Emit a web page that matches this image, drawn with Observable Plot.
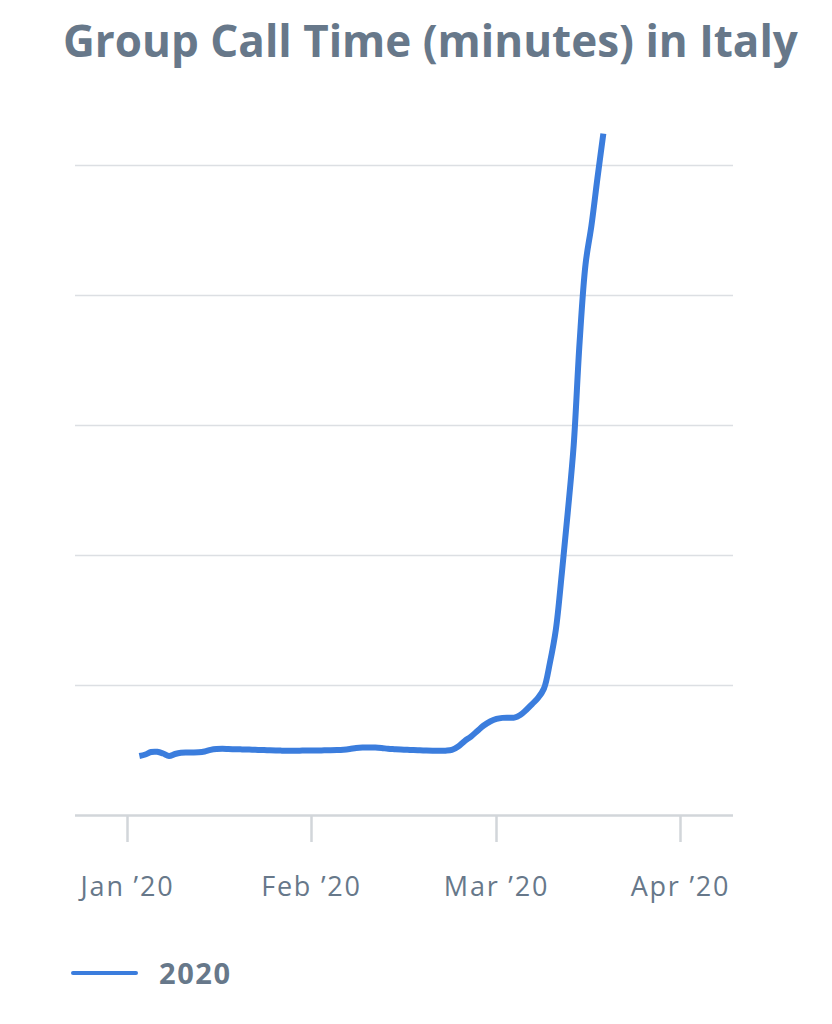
<!DOCTYPE html>
<html>
<head>
<meta charset="utf-8">
<script src="https://cdn.jsdelivr.net/npm/d3@7"></script>
<script src="https://cdn.jsdelivr.net/npm/@observablehq/plot@0.6"></script>
<style>
  html, body { margin: 0; padding: 0; background: #ffffff; }
  body { width: 832px; height: 1024px; position: relative; overflow: hidden; font-family: "Open Sans", sans-serif; }
  #title { position: absolute; left: 63px; top: 18px; font-size: 44px; line-height: 1; font-weight: 700; color: #67788a; white-space: nowrap; }
  #chart { position: absolute; left: 0; top: 100px; }
  #chart svg text { letter-spacing: 1.8px; }
  #legend { position: absolute; left: 71px; top: 958px; height: 29px; display: flex; align-items: center; }
  #legend .sw { display: inline-block; width: 67px; height: 4px; border-radius: 2px; background: #3b7ddd; margin-right: 21px; }
  #legend .lab { font-size: 29px; line-height: 1; font-weight: 700; color: #67788a; letter-spacing: 1.6px; }
</style>
</head>
<body>
<div id="title">Group Call Time (minutes) in Italy</div>
<div id="chart"></div>
<div id="legend"><span class="sw"></span><span class="lab">2020</span></div>
<script>
// Daily values (relative units, gridline step = 20)
const janDates = ["2020-01-03","2020-01-04","2020-01-05","2020-01-06","2020-01-07","2020-01-08","2020-01-09","2020-01-10","2020-01-11","2020-01-12","2020-01-13","2020-01-14","2020-01-15","2020-01-16","2020-01-17","2020-01-18","2020-01-19","2020-01-20","2020-01-21","2020-01-22","2020-01-23","2020-01-24","2020-01-25","2020-01-26","2020-01-27","2020-01-28","2020-01-29","2020-01-30","2020-01-31"];
const janValues = [9.15,9.38,9.77,9.80,9.54,9.15,9.46,9.65,9.69,9.69,9.72,9.85,10.10,10.23,10.26,10.23,10.20,10.18,10.15,10.12,10.09,10.06,10.03,10.00,9.98,9.97,9.97,9.98,10.00];
const febDates = ["2020-02-01","2020-02-02","2020-02-03","2020-02-04","2020-02-05","2020-02-06","2020-02-07","2020-02-08","2020-02-09","2020-02-10","2020-02-11","2020-02-12","2020-02-13","2020-02-14","2020-02-15","2020-02-16","2020-02-17","2020-02-18","2020-02-19","2020-02-20","2020-02-21","2020-02-22","2020-02-23","2020-02-24","2020-02-25","2020-02-26","2020-02-27","2020-02-28","2020-02-29"];
const febValues = [10.00,10.00,10.02,10.03,10.06,10.12,10.23,10.38,10.46,10.48,10.46,10.38,10.26,10.20,10.15,10.11,10.06,10.03,10.00,9.97,9.95,9.97,10.08,10.62,11.46,12.15,13.00,13.85,14.46];
const marDates = ["2020-03-01","2020-03-02","2020-03-03","2020-03-04","2020-03-05","2020-03-06","2020-03-07","2020-03-08","2020-03-09","2020-03-10","2020-03-11","2020-03-12","2020-03-13","2020-03-14","2020-03-15","2020-03-16","2020-03-17","2020-03-18","2020-03-19"];
const marValues = [14.85,15.02,15.05,15.05,15.46,16.23,17.15,18.08,19.54,23.5,28.6,37.2,46.6,56.9,72.8,84.8,90.8,98.0,104.9];

const tickDates = ["2020-01-01","2020-02-01","2020-03-01","2020-04-01"];
const tickLabels = ["Jan \u201920","Feb \u201920","Mar \u201920","Apr \u201920"];
const gridValues = [20, 40, 60, 80, 100];

const dates = [...janDates, ...febDates, ...marDates];
const values = [...janValues, ...febValues, ...marValues];
const data = dates.map((d, i) => ({date: new Date(d + "T00:00:00Z"), value: values[i]}));
const ticks = tickDates.map(d => new Date(d + "T00:00:00Z"));
const labelOf = new Map(ticks.map((t, i) => [+t, tickLabels[i]]));

const chart = Plot.plot({
  width: 832,
  height: 810,
  marginLeft: 75,
  marginRight: 99,
  marginTop: 0,
  marginBottom: 95,
  style: {background: "transparent", fontFamily: "Open Sans, sans-serif", overflow: "visible"},
  x: {
    type: "utc",
    domain: [new Date("2019-12-23T06:00:00Z"), ...ticks, new Date("2020-04-09T22:00:00Z")],
    range: [75, 127, 311, 496, 680, 733],
    axis: null
  },
  y: {domain: [0, 105], range: [715, 32.5], axis: null},
  marks: [
    Plot.gridY(gridValues, {stroke: "#dcdfe3", strokeOpacity: 1, strokeWidth: 1.5}),
    Plot.axisX({
      ticks: ticks,
      tickFormat: d => labelOf.get(+d),
      tickSize: 27,
      tickPadding: 34,
      stroke: "#d2d6da",
      strokeWidth: 2.5,
      fill: "#67788a",
      fontSize: 27,
      label: null
    }),
    Plot.ruleY([0], {stroke: "#d2d6da", strokeWidth: 2.5}),
    Plot.line(data, {x: "date", y: "value", stroke: "#3b7ddd", strokeWidth: 6, curve: "catmull-rom", strokeLinecap: "butt"})
  ]
});
document.getElementById("chart").appendChild(chart);
</script>
</body>
</html>
